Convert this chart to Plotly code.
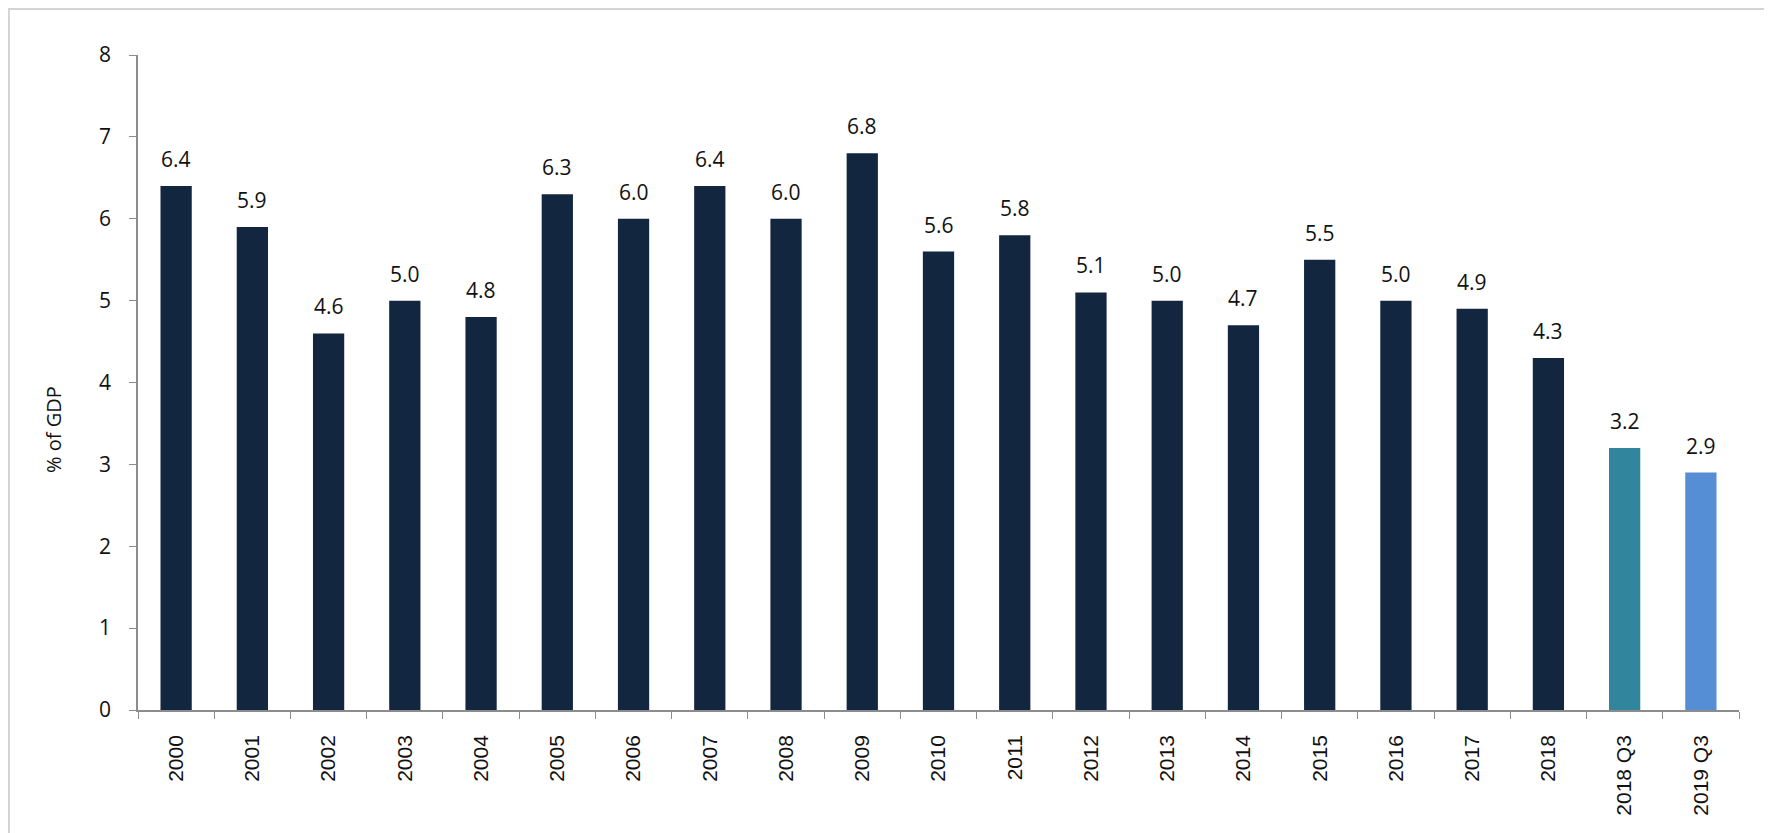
import plotly.graph_objects as go

# Data
categories = ['2000', '2001', '2002', '2003', '2004', '2005', '2006', '2007', '2008', '2009',
              '2010', '2011', '2012', '2013', '2014', '2015', '2016', '2017', '2018',
              '2018 Q3', '2019 Q3']
values = [6.4, 5.9, 4.6, 5.0, 4.8, 6.3, 6.0, 6.4, 6.0, 6.8,
          5.6, 5.8, 5.1, 5.0, 4.7, 5.5, 5.0, 4.9, 4.3,
          3.2, 2.9]
y_ticks = [0, 1, 2, 3, 4, 5, 6, 7, 8]

# Colours: annual bars navy, the two quarters teal and blue
bar_colors = ['#12263F'] * 19 + ['#31869E', '#558ED5']

fig = go.Figure()
fig.add_trace(go.Bar(
    x=categories,
    y=values,
    marker=dict(color=bar_colors, line=dict(width=0)),
    hoverinfo='x+y',
))

# value labels above each bar (x given as category index)
labels = []
for i, val in enumerate(values):
    labels.append(dict(
        x=i, y=val,
        text=f'{val:.1f}',
        showarrow=False,
        yanchor='bottom',
        yshift=11,
        font=dict(family='Open Sans', size=21, color='#111111'),
    ))

# y-axis title
labels.append(dict(
    text='% of GDP',
    xref='paper', yref='paper',
    x=-0.0531, y=0.429,
    xanchor='center', yanchor='middle',
    textangle=-90,
    showarrow=False,
    font=dict(family='Open Sans', size=20, color='#111111'),
))

fig.update_layout(
    width=1772,
    height=833,
    margin=dict(l=130, r=41, t=47, b=131),
    plot_bgcolor='white',
    paper_bgcolor='white',
    bargap=0.59,
    showlegend=False,
    xaxis=dict(
        type='category',
        categoryorder='array',
        categoryarray=categories,
        tickangle=-90,
        ticks='outside',
        tickson='boundaries',
        ticklen=7,
        tickcolor='#8C8C8C',
        showline=True,
        linecolor='#8C8C8C',
        linewidth=1.5,
        showgrid=False,
        tickfont=dict(family='Liberation Sans, Arial', size=21, color='#111111'),
        ticklabelstandoff=15,
    ),
    yaxis=dict(
        range=[0, 8],
        tickvals=y_ticks,
        ticks='outside',
        ticklen=7,
        tickcolor='#8C8C8C',
        showline=True,
        linecolor='#8C8C8C',
        linewidth=1.5,
        showgrid=False,
        zeroline=False,
        tickfont=dict(family='Open Sans', size=21, color='#111111'),
        ticklabelstandoff=14,
    ),
    annotations=labels,
    shapes=[dict(
        type='rect',
        xref='paper', yref='paper',
        x0=-0.0806, x1=1.0169, y0=-0.3, y1=1.0702,
        line=dict(color='#D4D4D4', width=2),
        layer='below',
    )],
)

fig.write_html('out.html')
